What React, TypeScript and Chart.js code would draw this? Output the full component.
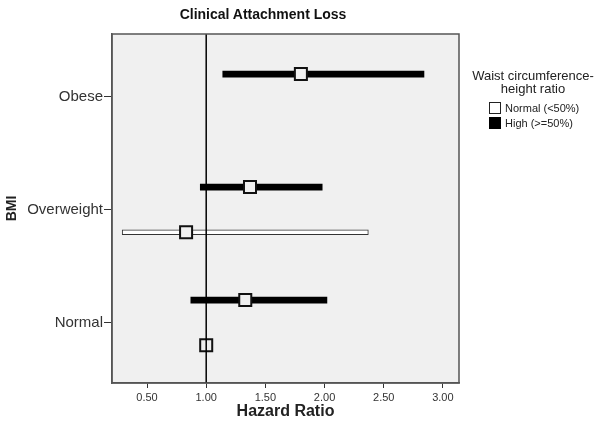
import React, { useEffect, useRef } from "react";
import { Chart, registerables } from "chart.js";

Chart.register(...registerables);

// BMI categories (y positions 0,1,2)
const categories = ["Normal", "Overweight", "Obese"];
// High (>=50%) waist circumference-height ratio
const highHR = [1.33, 1.37, 1.8];
const highLow = [0.87, 0.95, 1.14];
const highUp = [2.02, 1.98, 2.84];
// Normal (<50%) waist circumference-height ratio
const normalHR: (number | null)[] = [1.0, 0.83, null];
const normalLow: (number | null)[] = [null, 0.29, null];
const normalUp: (number | null)[] = [null, 2.37, null];

const xTicks = [0.5, 1.0, 1.5, 2.0, 2.5, 3.0];
const refValue = 1.0;

const X_MIN = 0.204;
const X_MAX = 3.136;
const Y_MIN = -0.534;
const Y_MAX = 2.555;
const HIGH_OFFSET = 0.2;
const NORMAL_OFFSET = -0.2;

const FONT = "'Liberation Sans', Arial, sans-serif";

export default function App() {
  const ref = useRef<HTMLCanvasElement | null>(null);

  useEffect(() => {
    if (!ref.current) return;

    const highBars = categories.map((_, i) => ({ y: i + HIGH_OFFSET, x: [highLow[i], highUp[i]] }));
    const normalBars: any[] = [];
    categories.forEach((_, i) => {
      const lo = normalLow[i];
      const hi = normalUp[i];
      if (lo !== null && hi !== null) normalBars.push({ y: i + NORMAL_OFFSET, x: [lo, hi] });
    });
    const highPts = categories.map((_, i) => ({ x: highHR[i], y: i + HIGH_OFFSET }));
    const normalPts: any[] = [];
    categories.forEach((_, i) => {
      const v = normalHR[i];
      if (v !== null) normalPts.push({ x: v, y: i + NORMAL_OFFSET });
    });

    const bgPlugin = {
      id: "plotBg",
      beforeDraw(chart: any) {
        const { ctx, chartArea } = chart;
        ctx.save();
        ctx.fillStyle = "#f0f0f0";
        ctx.fillRect(chartArea.left, chartArea.top, chartArea.right - chartArea.left, chartArea.bottom - chartArea.top);
        ctx.restore();
      },
      afterDraw(chart: any) {
        const { ctx, chartArea } = chart;
        ctx.save();
        ctx.strokeStyle = "#555";
        ctx.lineWidth = 1.5;
        ctx.strokeRect(chartArea.left, chartArea.top, chartArea.right - chartArea.left, chartArea.bottom - chartArea.top);
        ctx.restore();
      },
    };

    const chart = new Chart(ref.current, {
      type: "bar",
      data: {
        datasets: [
          {
            type: "scatter",
            label: "ref",
            data: [
              { x: refValue, y: Y_MIN },
              { x: refValue, y: Y_MAX },
            ],
            showLine: true,
            borderColor: "#000",
            borderWidth: 1.5,
            pointRadius: 0,
            order: 0,
          } as any,
          {
            type: "scatter",
            label: "High pts",
            data: highPts,
            pointStyle: "rect",
            pointRadius: 8.5,
            pointBorderWidth: 2,
            pointBorderColor: "#111",
            pointBackgroundColor: "#f0f0f0",
            order: 1,
          } as any,
          {
            type: "scatter",
            label: "Normal pts",
            data: normalPts,
            pointStyle: "rect",
            pointRadius: 8.5,
            pointBorderWidth: 2,
            pointBorderColor: "#111",
            pointBackgroundColor: "#f0f0f0",
            order: 1,
          } as any,
          {
            type: "bar",
            label: "High (>=50%)",
            indexAxis: "y",
            data: highBars,
            backgroundColor: "#000",
            borderWidth: 0,
            barThickness: 6,
            grouped: false,
            borderSkipped: false,
            order: 2,
          } as any,
          {
            type: "bar",
            label: "Normal (<50%)",
            indexAxis: "y",
            data: normalBars,
            backgroundColor: "#fff",
            borderColor: "#333",
            borderWidth: 1,
            barThickness: 5,
            grouped: false,
            borderSkipped: false,
            order: 2,
          } as any,
        ],
      },
      options: {
        animation: false,
        responsive: true,
        maintainAspectRatio: false,
        layout: { padding: { top: 34, right: 141, left: 0, bottom: 0 } },
        plugins: {
          legend: { display: false },
          tooltip: { enabled: false },
          title: { display: false },
        },
        scales: {
          x: {
            type: "linear",
            min: X_MIN,
            max: X_MAX,
            offset: false,
            beginAtZero: false,
            afterBuildTicks: (s: any) => {
              s.ticks = xTicks.map((v) => ({ value: v }));
            },
            afterFit: (s: any) => {
              s.height = 44;
            },
            ticks: {
              callback: (v: any) => Number(v).toFixed(2),
              font: { family: FONT, size: 11 },
              color: "#333",
              padding: 3,
              maxRotation: 0,
            },
            grid: {
              offset: false,
              drawOnChartArea: false,
              drawTicks: true,
              tickLength: 5,
              tickColor: "#333",
              tickWidth: 1,
            },
            border: { display: true, color: "#555", width: 1.5 },
            title: {
              display: true,
              text: "Hazard Ratio",
              font: { family: FONT, size: 16, weight: "bold" },
              color: "#222",
              padding: { top: 2, bottom: 6 },
            },
          },
          y: {
            type: "linear",
            min: Y_MIN,
            max: Y_MAX,
            offset: false,
            beginAtZero: false,
            reverse: false,
            afterBuildTicks: (s: any) => {
              s.ticks = categories.map((_, i) => ({ value: i }));
            },
            afterFit: (s: any) => {
              s.width = 112;
            },
            ticks: {
              callback: (v: any) => categories[Math.round(Number(v))] ?? "",
              font: { family: FONT, size: 15 },
              color: "#333",
              padding: 1,
            },
            grid: {
              offset: false,
              drawOnChartArea: false,
              drawTicks: true,
              tickLength: 8,
              tickColor: "#333",
              tickWidth: 1,
            },
            border: { display: true, color: "#555", width: 1.5 },
            title: {
              display: true,
              text: "BMI",
              font: { family: FONT, size: 14, weight: "bold" },
              color: "#222",
              padding: { top: 4, bottom: 4 },
            },
          },
        },
      } as any,
      plugins: [bgPlugin],
    });

    return () => chart.destroy();
  }, []);

  return (
    <div style={{ position: "fixed", left: 0, top: 0, width: 600, height: 427, background: "#fff" }}>
      <canvas ref={ref} />
      <div
        style={{
          position: "absolute",
          left: 163,
          width: 200,
          top: 6,
          textAlign: "center",
          fontFamily: FONT,
          fontWeight: "bold",
          fontSize: 14,
          lineHeight: "16px",
          color: "#111",
        }}
      >
        Clinical Attachment Loss
      </div>
      <div
        style={{
          position: "absolute",
          left: 466,
          width: 134,
          top: 70,
          fontFamily: FONT,
          color: "#222",
        }}
      >
        <div style={{ textAlign: "center", fontSize: 13, lineHeight: "12.5px" }}>
          Waist circumference-
          <br />
          height ratio
        </div>
        <div style={{ marginTop: 6, marginLeft: 23, fontSize: 11, lineHeight: "14.5px" }}>
          <div style={{ display: "flex", alignItems: "center" }}>
            <span
              style={{
                display: "inline-block",
                width: 10,
                height: 10,
                border: "1px solid #222",
                background: "#fff",
                marginRight: 4,
              }}
            />
            Normal (&lt;50%)
          </div>
          <div style={{ display: "flex", alignItems: "center" }}>
            <span
              style={{
                display: "inline-block",
                width: 10,
                height: 10,
                border: "1px solid #000",
                background: "#000",
                marginRight: 4,
              }}
            />
            High (&gt;=50%)
          </div>
        </div>
      </div>
    </div>
  );
}
